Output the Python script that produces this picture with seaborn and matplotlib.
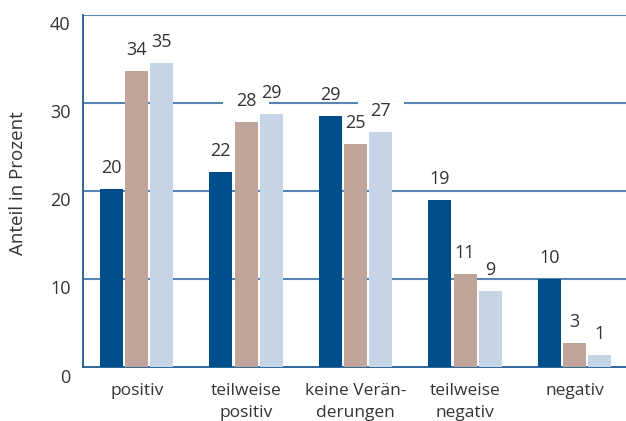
import matplotlib
matplotlib.use("Agg")
import matplotlib.pyplot as plt
from matplotlib.patches import Rectangle
from matplotlib.transforms import ScaledTranslation
import seaborn as sns
import pandas as pd

categories = ["positiv", "teilweise\npositiv", "keine Verän-\nderungen", "teilweise\nnegativ", "negativ"]
series = ["A", "B", "C"]
values_a = [20.2, 22.2, 28.5, 19.0, 10.0]
values_b = [33.6, 27.8, 25.3, 10.6, 2.8]
values_c = [34.5, 28.7, 26.7, 8.6, 1.4]
labels_a = ["20", "22", "29", "19", "10"]
labels_b = ["34", "28", "25", "11", "3"]
labels_c = ["35", "29", "27", "9", "1"]
yticks = [0, 10, 20, 30, 40]
colors = ["#004d8c", "#c2a59a", "#c5d5e6"]

rows = []
for s, vals in zip(series, [values_a, values_b, values_c]):
    for c, v in zip(categories, vals):
        rows.append({"cat": c, "series": s, "value": v})
df = pd.DataFrame(rows)

sns.set_style("white")
plt.rcParams["font.family"] = ["Open Sans", "DejaVu Sans"]

W, H, DPI = 6.26, 4.21, 100
fig = plt.figure(figsize=(W, H), dpi=DPI)
ax_rect = [0.1326, 0.1276, 0.8674, 0.8375]
ax = fig.add_axes(ax_rect)

XLIM = (-0.49, 4.47)
YLIM = (0, 40)
ax.set_xlim(*XLIM)
ax.set_ylim(*YLIM)

for t in yticks[1:]:
    ax.axhline(t, color="#5686b4", lw=1.5, zorder=0.5)

sns.barplot(data=df, x="cat", y="value", hue="series", order=categories,
            hue_order=series, palette=colors, width=0.694, gap=0.09,
            saturation=1, legend=False, ax=ax, zorder=3, linewidth=0)
ax.set_xlim(*XLIM)
ax.set_ylim(*YLIM)

# pixel -> data conversion from the axes scales
px_x = (XLIM[1] - XLIM[0]) / (ax_rect[2] * W * DPI)
px_y = (YLIM[1] - YLIM[0]) / (ax_rect[3] * H * DPI)

off_px = 22.5   # label centre above bar top
half_h = 7.75   # half height of white label box
half_w = 23.0   # half width of white label box
digit_half = 6.5

all_labels = [labels_a, labels_b, labels_c]
bars = list(ax.patches)[:15]
for i, p in enumerate(bars):
    si, ci = divmod(i, 5)
    lab = all_labels[si][ci]
    x = p.get_x() + p.get_width() / 2
    h = p.get_height()
    ax.add_patch(Rectangle((x - half_w * px_x, h + (off_px - half_h) * px_y),
                           2 * half_w * px_x, 2 * half_h * px_y,
                           facecolor="white", edgecolor="none", zorder=2))
    ax.annotate(lab, (x, h), xytext=(0, (off_px - digit_half) * 72 / DPI),
                textcoords="offset points",
                ha="center", va="baseline", fontsize=13, color="#333333", zorder=5)

ax.set_yticks(yticks)
ax.set_yticklabels([str(t) for t in yticks], fontsize=13, color="#333333")
ax.tick_params(axis="y", length=0, pad=9)
ax.tick_params(axis="x", length=0, pad=11)
ax.set_xticks(range(len(categories)))
ax.set_xticklabels(categories, fontsize=12.5, color="#333333", linespacing=1.5)
shift = ScaledTranslation(0, -6 / 72, fig.dpi_scale_trans)
for lab in ax.get_yticklabels():
    lab.set_transform(lab.get_transform() + shift)
ax.set_xlabel("")
ax.set_ylabel("Anteil in Prozent", fontsize=13.5, color="#333333")
ax.yaxis.set_label_coords(-0.104, 0.521)

for side in ["top", "right"]:
    ax.spines[side].set_visible(False)
ax.spines["left"].set_color("#1f5a92")
ax.spines["left"].set_linewidth(1.3)
ax.spines["bottom"].set_color("#1f5a92")
ax.spines["bottom"].set_linewidth(1.3)

fig.savefig("out.png", dpi=DPI)
